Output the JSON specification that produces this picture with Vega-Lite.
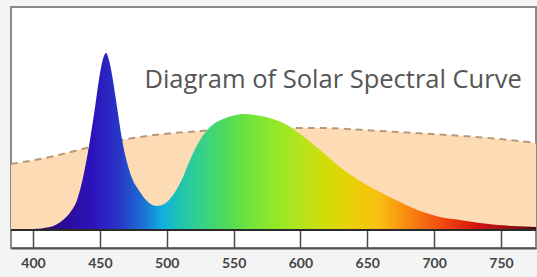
{
  "$schema": "https://vega.github.io/schema/vega-lite/v6.json",
  "width": 525,
  "height": 241,
  "autosize": {"type": "none"},
  "padding": {"left": 11, "top": 7, "right": 1, "bottom": 29},
  "background": "#f4f4f4",
  "config": {"view": {"fill": "#ffffff", "stroke": "#8a8a8a", "strokeWidth": 2}},
  "datasets": {
    "solar": [
      {"nm": 383.5, "v": 66}, {"nm": 412.7, "v": 73}, {"nm": 440, "v": 82}, {"nm": 474.8, "v": 92},
      {"nm": 525, "v": 99}, {"nm": 575, "v": 102}, {"nm": 614.7, "v": 102}, {"nm": 659.5, "v": 99},
      {"nm": 709.6, "v": 95}, {"nm": 749.3, "v": 91}, {"nm": 776.2, "v": 87}
    ],
    "spectrum": [
      {"nm": 383.5, "v": 0.5}, {"nm": 400, "v": 1}, {"nm": 412.7, "v": 3}, {"nm": 422.4, "v": 10},
      {"nm": 428, "v": 18}, {"nm": 432.9, "v": 30}, {"nm": 438.1, "v": 57}, {"nm": 442.6, "v": 90},
      {"nm": 446.4, "v": 123}, {"nm": 450.1, "v": 157}, {"nm": 452.5, "v": 172}, {"nm": 454.6, "v": 177},
      {"nm": 456.8, "v": 170}, {"nm": 459.1, "v": 155}, {"nm": 462.8, "v": 123}, {"nm": 466.6, "v": 90},
      {"nm": 472.6, "v": 57}, {"nm": 480, "v": 38}, {"nm": 486, "v": 28}, {"nm": 492.7, "v": 24},
      {"nm": 498, "v": 26}, {"nm": 504.7, "v": 35}, {"nm": 512.2, "v": 53}, {"nm": 517.4, "v": 70},
      {"nm": 524.9, "v": 90}, {"nm": 532.4, "v": 103}, {"nm": 542.1, "v": 111}, {"nm": 550, "v": 114.5},
      {"nm": 558, "v": 116}, {"nm": 566, "v": 115}, {"nm": 579.5, "v": 111}, {"nm": 590, "v": 105}, {"nm": 599.7, "v": 96},
      {"nm": 614.7, "v": 80}, {"nm": 629.6, "v": 63}, {"nm": 644.6, "v": 49}, {"nm": 659.5, "v": 38},
      {"nm": 674.5, "v": 28}, {"nm": 689.5, "v": 19}, {"nm": 704.4, "v": 13}, {"nm": 719.4, "v": 10},
      {"nm": 734.3, "v": 7}, {"nm": 759, "v": 4}, {"nm": 776.2, "v": 3}
    ],
    "label": [{"nm": 624.4, "v": 150, "t": "Diagram of Solar Spectral Curve"}]
  },
  "encoding": {
    "x": {
      "field": "nm", "type": "quantitative",
      "scale": {"domain": [383.5, 776.2], "nice": false, "zero": false},
      "axis": {
        "title": null, "values": [400, 450, 500, 550, 600, 650, 700, 750],
        "grid": false, "tickSize": -18, "tickColor": "#4a4a4a", "tickWidth": 1.5,
        "domainColor": "#555555", "domainWidth": 2,
        "labelFont": "Lato", "labelFontSize": 14, "labelFontWeight": "bold",
        "labelColor": "#444444", "labelPadding": 26
      }
    },
    "y": {
      "field": "v", "type": "quantitative",
      "scale": {"domain": [-18, 223], "nice": false, "zero": false},
      "axis": null
    }
  },
  "layer": [
    {
      "data": {"name": "solar"},
      "mark": {"type": "area", "interpolate": "monotone", "color": "#fddbb4"},
      "encoding": {"y2": {"datum": 0}}
    },
    {
      "data": {"name": "solar"},
      "mark": {"type": "line", "interpolate": "monotone", "color": "#b89a78", "strokeWidth": 2, "strokeDash": [7, 5]}
    },
    {
      "data": {"name": "spectrum"},
      "mark": {
        "type": "area", "interpolate": "monotone",
        "color": {
          "gradient": "linear", "x1": 0, "x2": 1, "y1": 0, "y2": 0,
          "stops": [
            {"offset": 0, "color": "#1e0a28"},
            {"offset": 0.0675, "color": "#2a0868"},
            {"offset": 0.106, "color": "#2c0c9c"},
            {"offset": 0.157, "color": "#2c14bc"},
            {"offset": 0.208, "color": "#2838c8"},
            {"offset": 0.251, "color": "#1a70d4"},
            {"offset": 0.289, "color": "#10b0e0"},
            {"offset": 0.322, "color": "#20c4b0"},
            {"offset": 0.36, "color": "#34d08c"},
            {"offset": 0.411, "color": "#50dc58"},
            {"offset": 0.455, "color": "#70e43c"},
            {"offset": 0.5, "color": "#90e828"},
            {"offset": 0.551, "color": "#b4e41c"},
            {"offset": 0.602, "color": "#d4dc08"},
            {"offset": 0.645, "color": "#e8d004"},
            {"offset": 0.701, "color": "#f8c010"},
            {"offset": 0.765, "color": "#f88010"},
            {"offset": 0.831, "color": "#f04010"},
            {"offset": 0.892, "color": "#d01010"},
            {"offset": 0.956, "color": "#901010"},
            {"offset": 1, "color": "#500808"}
          ]
        }
      },
      "encoding": {"y2": {"datum": 0}}
    },
    {
      "data": {"values": [{"v": 0}]},
      "mark": {"type": "rule", "color": "#2a2a2a", "strokeWidth": 2},
      "encoding": {"x": null, "y": {"field": "v", "type": "quantitative"}}
    },
    {
      "data": {"name": "label"},
      "mark": {"type": "text", "font": "Open Sans", "fontSize": 25.5, "color": "#555555", "align": "center", "baseline": "middle"},
      "encoding": {"text": {"field": "t"}}
    }
  ]
}
